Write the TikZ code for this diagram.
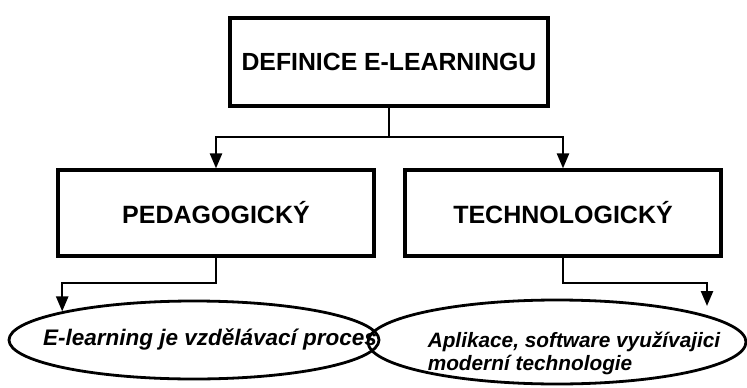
\documentclass[tikz,border=0pt]{standalone}
\usepackage{fontspec}
\setmainfont{Liberation Sans}
\usetikzlibrary{shapes.geometric,arrows.meta}

\begin{document}
\begin{tikzpicture}
  [x=1pt, y=-1pt,
   box node/.style={rectangle,draw,line width=3.2pt,minimum width=316pt,minimum height=86pt,
     font=\fontsize{25}{29}\selectfont\bfseries},
   oval node/.style={ellipse,draw,line width=2.8pt,inner sep=0pt,minimum width=370pt,minimum height=78pt},
   oval text/.style={font=\fontsize{22.5}{23}\selectfont\bfseries\itshape,align=left,inner sep=0pt},
   link/.style={line width=2.4pt},
   arrow link/.style={link,-{Triangle[length=15pt,width=12pt]}}]
  \useasboundingbox (0,0) rectangle (747,388);
  \node[box node, minimum width=318pt, minimum height=88pt, font=\fontsize{24.8}{29}\selectfont\bfseries]
    (def) at (389,62) {DEFINICE E-LEARNINGU};

  \node[box node] (ped) at (216,213) {PEDAGOGICKÝ};
  \node[box node] (tech) at (563,213) {TECHNOLOGICKÝ};

  \node[oval node] (procesoval) at (194,340) {};
  \node[oval node, minimum width=378pt, minimum height=84pt] (techoval) at (557,342) {};
  \node[oval text] (proces) at (210,339) {E-learning je vzdělávací proces};
  \node[oval text, font=\fontsize{20.8}{23}\selectfont\bfseries\itshape]
    (aplikace) at (574,353) {Aplikace, software využívajici\\moderní technologie};

  \coordinate (split) at (389,137);
  \coordinate (techtip) at (707,306);

  \draw[link] (def) -- (split);
  \draw[arrow link] (split) -| (ped);
  \draw[arrow link] (split) -| (tech);
  \draw[arrow link] (ped) -- ++(0,70) -| (procesoval.north west);
  \draw[arrow link] (tech) -- ++(0,70) -| (techtip);
\end{tikzpicture}
\end{document}
